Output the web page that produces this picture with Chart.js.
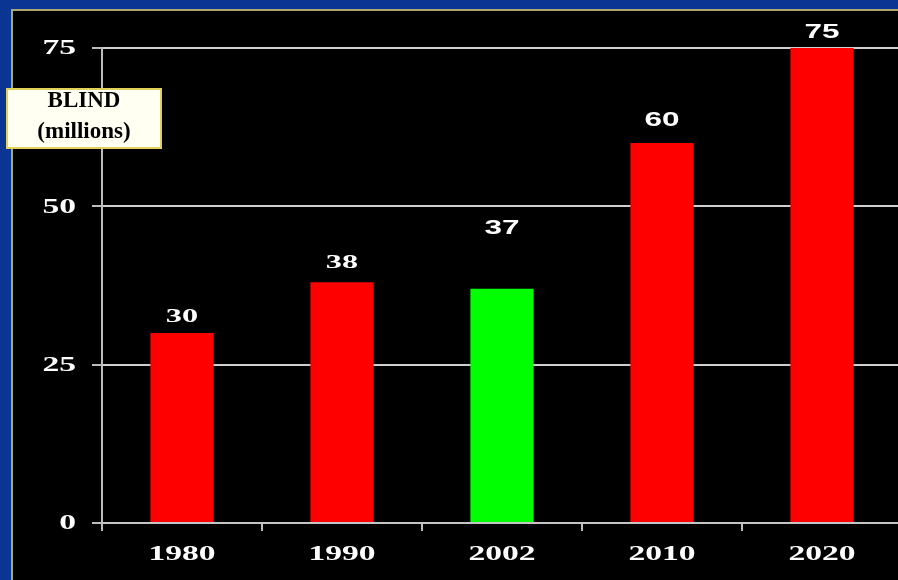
<!DOCTYPE html>
<html>
<head>
<meta charset="utf-8">
<script src="https://cdn.jsdelivr.net/npm/chart.js@4.4.1/dist/chart.umd.min.js"></script>
<style>
  html, body { margin: 0; padding: 0; width: 898px; height: 580px; overflow: hidden; background: #0a3592; }
  #panel { position: absolute; left: 11px; top: 9px; width: 900px; height: 580px; background: #000; border-left: 2px solid #a9a873; border-top: 2px solid #a9a873; }
  #wrap { position: absolute; left: 0; top: 0; width: 904px; height: 580px; }
  #unitBox {
    position: absolute; left: 6px; top: 88px; width: 152px; height: 57px;
    background: #fffff2; border: 2px solid #e2d25a;
    font: bold 23px "Liberation Serif", serif; color: #000; text-align: center; line-height: 31px;
  }
  #unitBox div { margin-top: -6px; }
</style>
</head>
<body>
<div id="panel"></div>
<div id="wrap"><canvas id="blindChart"></canvas></div>
<div id="unitBox"><div>BLIND<br>(millions)</div></div>
<script>
// Blind people worldwide, millions
const years = ['1980', '1990', '2002', '2010', '2020'];
const blindMillions = [30, 38, 37, 60, 75];
const barColors = ['#ff0000', '#ff0000', '#00ff00', '#ff0000', '#ff0000'];
const yTicks = [0, 25, 50, 75];

// per-bar label styling
const labelGap = [16, 19, 60, 23, 16];
const labelSerif = [true, true, false, false, false];

const serifFont = '"Liberation Serif", "Times New Roman", serif';
const sansFont = '"Liberation Sans", Arial, sans-serif';

function stretchText(ctx, text, x, y, sx) {
    ctx.save();
    ctx.translate(x, y);
    ctx.scale(sx, 1);
    ctx.fillText(text, 0, 0);
    ctx.restore();
}

const textPlugin = {
    id: 'stretchedText',
    afterDraw(chart) {
        const ctx = chart.ctx;
        const xs = chart.scales.x, ys = chart.scales.y;
        ctx.save();
        ctx.fillStyle = '#ffffff';
        ctx.textBaseline = 'middle';

        // y tick labels
        ctx.textAlign = 'right';
        ctx.font = 'bold 21px ' + serifFont;
        yTicks.forEach(v => stretchText(ctx, String(v), 76, ys.getPixelForValue(v) + 1, 1.6));

        // x tick labels
        ctx.textAlign = 'center';
        years.forEach((y, i) => stretchText(ctx, y, xs.getPixelForValue(i), 555, 1.6));

        // value labels above bars
        const meta = chart.getDatasetMeta(0);
        meta.data.forEach((bar, i) => {
            ctx.font = labelSerif[i] ? 'bold 19px ' + serifFont : 'bold 21px ' + sansFont;
            stretchText(ctx, String(blindMillions[i]), bar.x, bar.y - labelGap[i], labelSerif[i] ? 1.7 : 1.5);
        });
        ctx.restore();
    }
};

new Chart(document.getElementById('blindChart'), {
    type: 'bar',
    data: {
        labels: years,
        datasets: [{
            data: blindMillions,
            backgroundColor: barColors,
            borderWidth: 0,
            barPercentage: 0.79,
            categoryPercentage: 0.5
        }]
    },
    options: {
        responsive: true,
        maintainAspectRatio: false,
        animation: false,
        layout: { padding: { top: 48, right: 2, bottom: 0, left: 0 } },
        plugins: { legend: { display: false }, tooltip: { enabled: false } },
        scales: {
            x: {
                afterFit: s => { s.height = 57; },
                ticks: { display: false },
                grid: { drawOnChartArea: false, drawTicks: true, tickLength: 8, color: '#bdbdbd', lineWidth: 2 },
                border: { color: '#c4c4c4', width: 2 }
            },
            y: {
                min: 0,
                max: 75,
                afterFit: s => { s.width = 102; },
                afterBuildTicks: s => { s.ticks = yTicks.map(v => ({ value: v })); },
                ticks: { display: false },
                grid: { color: '#cfcfcf', lineWidth: 2, drawTicks: true, tickLength: 10, tickColor: '#bdbdbd' },
                border: { color: '#bdbdbd', width: 2 }
            }
        }
    },
    plugins: [textPlugin]
});
</script>
</body>
</html>
